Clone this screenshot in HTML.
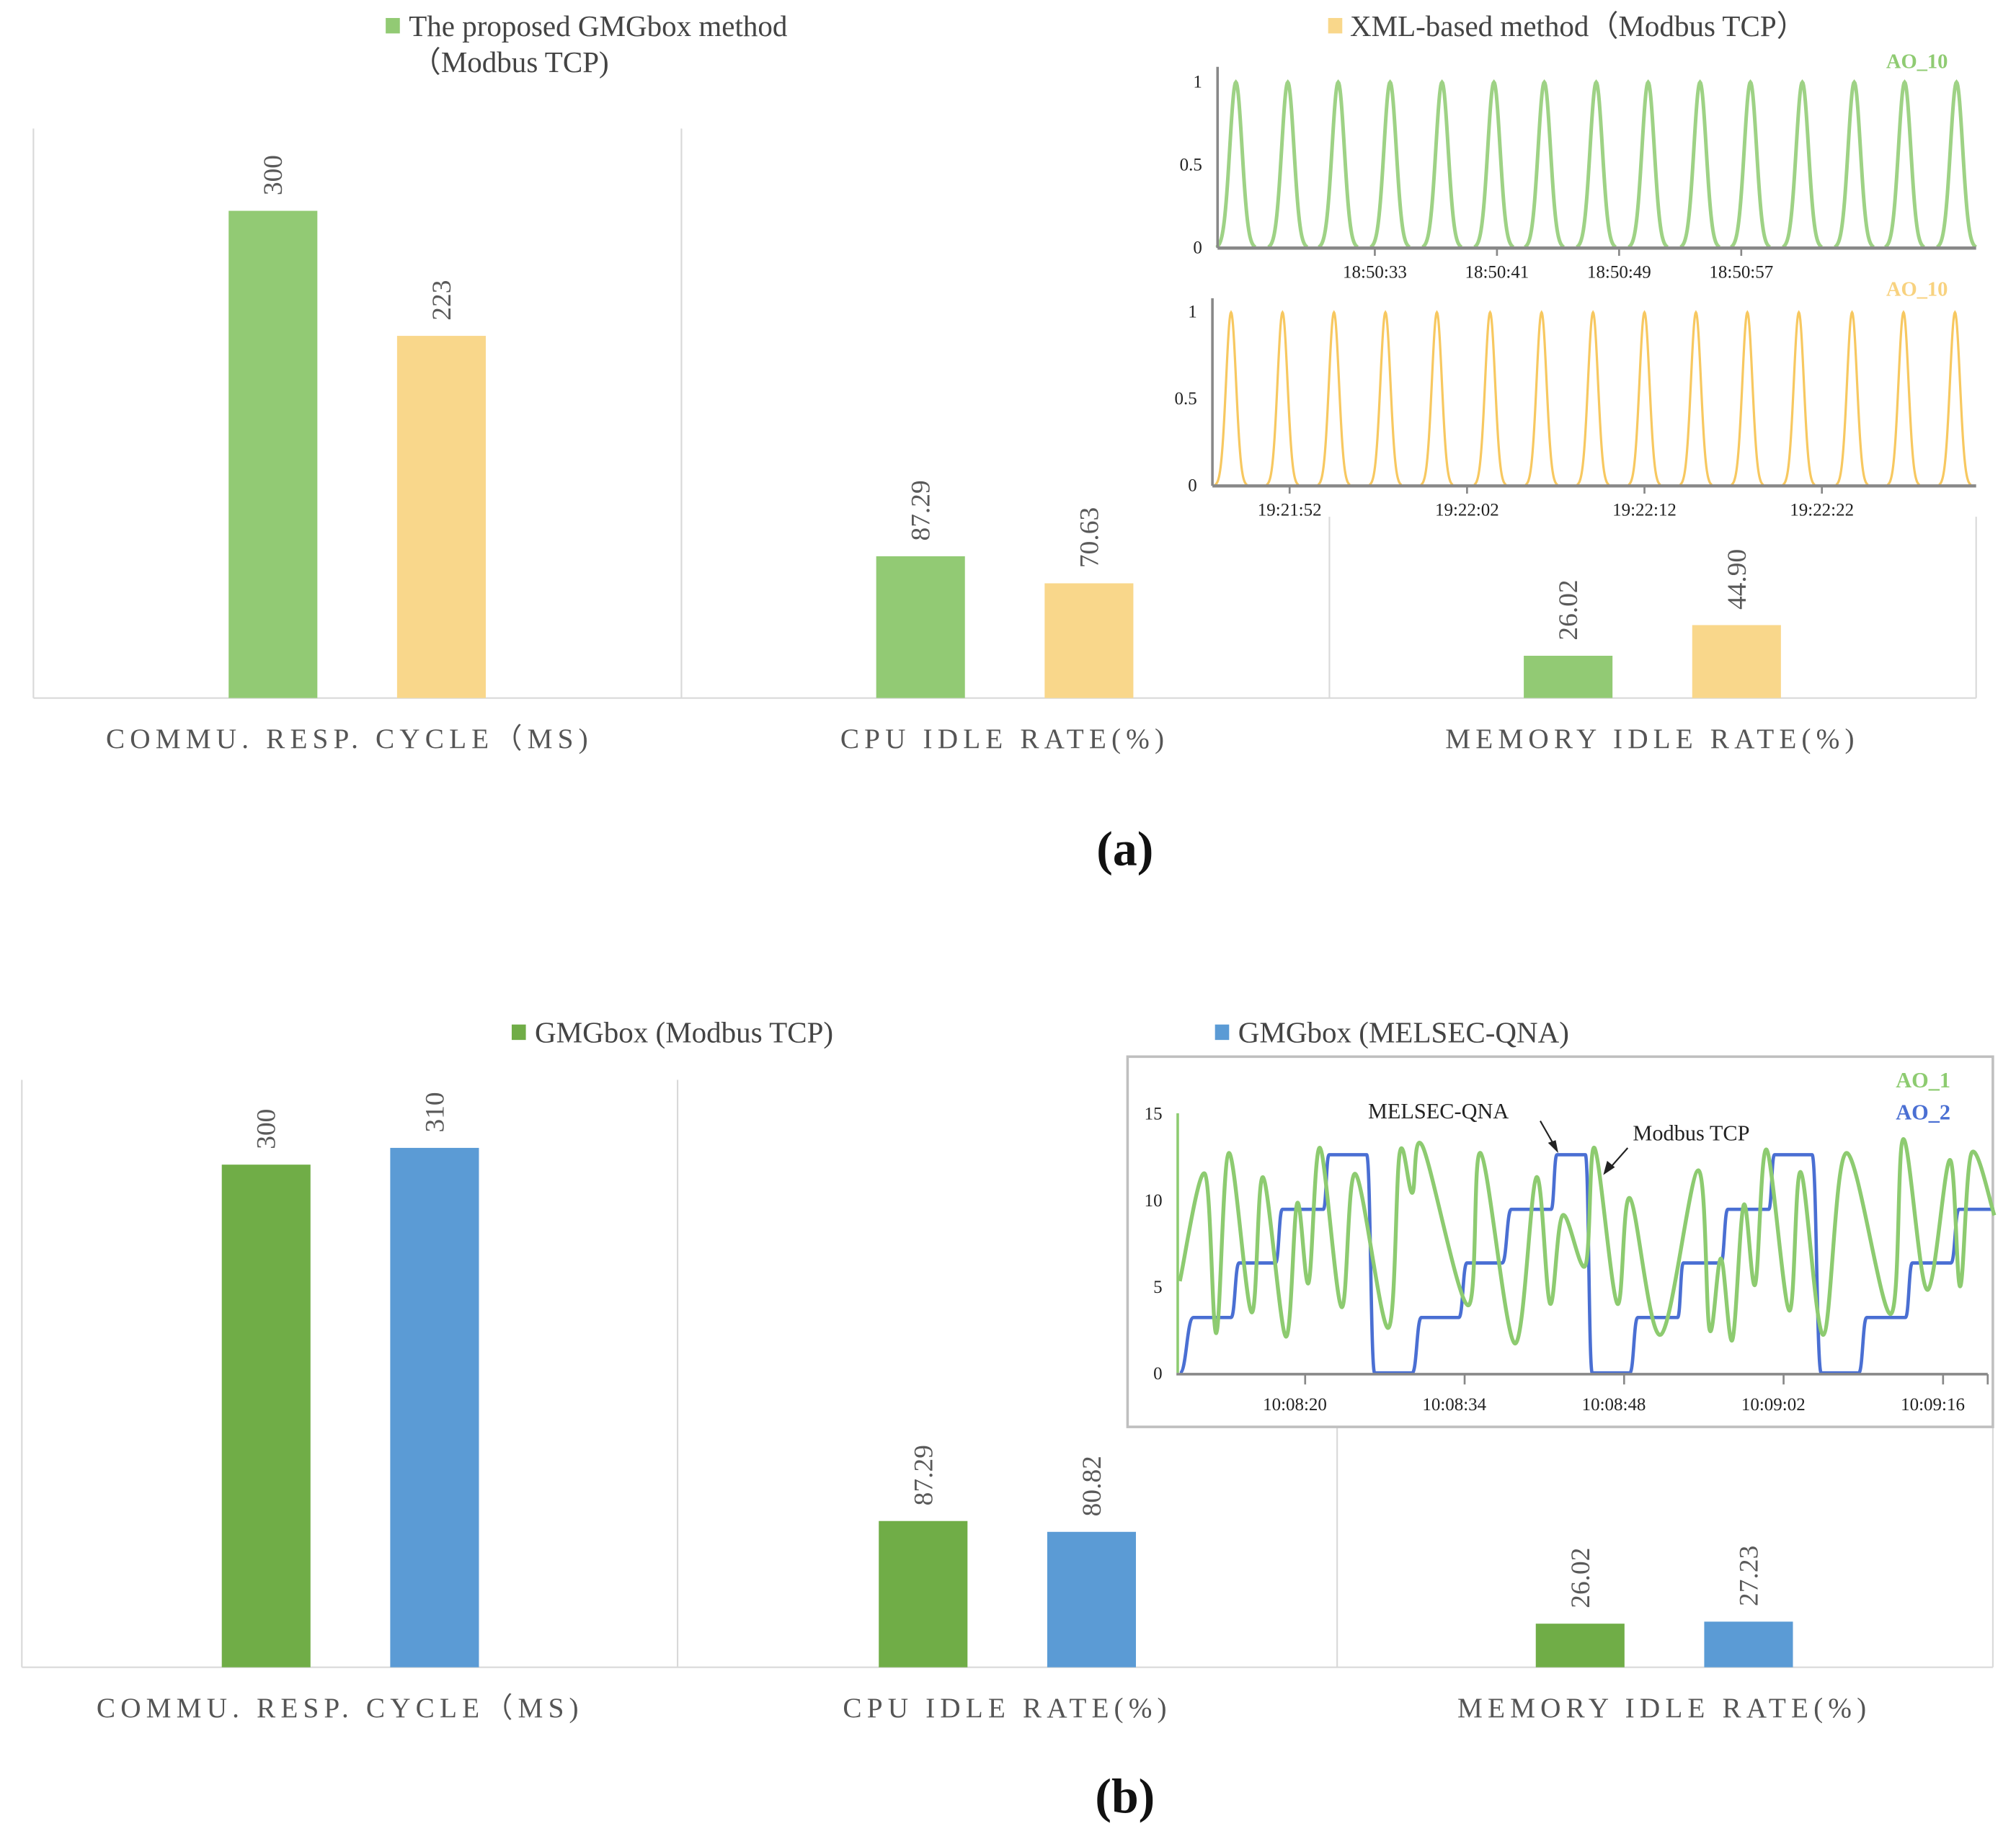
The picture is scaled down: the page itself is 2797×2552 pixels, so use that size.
<!DOCTYPE html>
<html><head><meta charset="utf-8"><style>
html,body{margin:0;padding:0;background:#fff}
svg{display:block}
text{font-family:"Liberation Serif",serif}
</style></head><body>
<svg id="fig" width="2797" height="2552" viewBox="0 0 1568 1430.6" preserveAspectRatio="none" xmlns="http://www.w3.org/2000/svg">
<rect x="0" y="0" width="1568" height="1431" fill="#fff"/>
<g id="root"></g>
</svg>
<script>
// ---- Panel (a) data
const catsA = ["COMMU. RESP. CYCLE（MS)", "CPU IDLE RATE(%)", "MEMORY IDLE RATE(%)"];
const greenA = [300, 87.29, 26.02];
const yellowA = [223, 70.63, 44.90];
const labelsGreenA = ["300", "87.29", "26.02"];
const labelsYellowA = ["223", "70.63", "44.90"];
// ---- Panel (b) data
const catsB = ["COMMU. RESP. CYCLE（MS)", "CPU IDLE RATE(%)", "MEMORY IDLE RATE(%)"];
const greenB = [300, 87.29, 26.02];
const blueB = [310, 80.82, 27.23];
const labelsGreenB = ["300", "87.29", "26.02"];
const labelsBlueB = ["310", "80.82", "27.23"];
// ---- inset pulses (seconds)
const pulseTopPeaks = [23.9, 27.3, 30.6, 34.0, 37.4, 40.8, 44.1, 47.5, 50.9, 54.3, 57.6, 61.0, 64.4, 67.7, 71.1];
const pulseTopTicks = [33, 41, 49, 57];
const pulseTopTickLabels = ["18:50:33", "18:50:41", "18:50:49", "18:50:57"];
const pulseBotPeaks = [48.7, 51.6, 54.5, 57.4, 60.3, 63.3, 66.2, 69.1, 72.0, 74.9, 77.8, 80.7, 83.7, 86.6, 89.5];
const pulseBotTicks = [52, 62, 72, 82];
const pulseBotTickLabels = ["19:21:52", "19:22:02", "19:22:12", "19:22:22"];
const pulseYTicks = [0, 0.5, 1];
const pulseYLabels = ["0", "0.5", "1"];
// ---- inset (b) series (seconds after 10:08:00)
const ao1T = [9.0, 11.2, 12.2, 13.3, 15.3, 16.3, 18.3, 19.3, 20.3, 21.3, 23.2, 24.4, 27.3, 28.3, 29.4, 30.3, 34.3, 35.4, 38.4, 40.3, 41.5, 42.6, 44.6, 45.4, 47.4, 48.5, 51.2, 54.5, 55.5, 56.5, 57.5, 58.5, 59.5, 60.5, 62.5, 63.5, 65.5, 67.5, 71.4, 72.5, 74.6, 76.6, 77.5, 78.5, 80.5];
const ao1V = [5.3, 11.5, 2.3, 12.7, 3.5, 11.3, 2.1, 9.8, 5.2, 13.0, 3.8, 11.5, 2.6, 12.7, 10.4, 13.1, 3.9, 12.7, 1.7, 11.3, 4.0, 9.1, 6.2, 13.0, 4.0, 10.1, 2.2, 11.7, 2.5, 6.6, 1.9, 9.7, 5.1, 12.9, 3.6, 11.6, 2.2, 12.7, 3.4, 13.5, 4.8, 12.3, 5.0, 12.7, 9.1];
const ao2Start = [9.0, 10.2, 14.2, 18.0, 22.1, 26.1, 30.2, 34.2, 38.1, 42.1, 45.2, 49.2, 53.2, 57.1, 61.2, 65.3, 69.3, 73.3, 77.4];
const ao2End = [9.0, 13.5, 17.4, 21.6, 25.4, 29.4, 33.5, 37.3, 41.6, 44.6, 48.5, 52.7, 56.5, 60.7, 64.5, 68.6, 72.7, 76.7, 80.5];
const ao2Level = [0, 3.2, 6.35, 9.45, 12.6, 0, 3.2, 6.35, 9.45, 12.6, 0, 3.2, 6.35, 9.45, 12.6, 0, 3.2, 6.35, 9.45];
const insBTicks = [20, 34, 48, 62, 76];
const insBTickLabels = ["10:08:20", "10:08:34", "10:08:48", "10:09:02", "10:09:16"];
const insBYTicks = [0, 5, 10, 15];

const NS = "http://www.w3.org/2000/svg";
const root = document.getElementById('root');
function mk(tag, attrs, parent) {
  const e = document.createElementNS(NS, tag);
  for (const k in attrs) e.setAttribute(k, attrs[k]);
  (parent || root).appendChild(e);
  return e;
}
function txt(s, attrs, parent) { const e = mk('text', attrs, parent); e.textContent = s; return e; }

// ---------- bar panel builder
function barPanel(cfg) {
  const g = mk('g', {});
  
  
  const y = v => cfg.base - v * cfg.scale;
  cfg.vlines.forEach(l => {
    const ln = mk('line', {x1: l[0], x2: l[0], y1: l[1], y2: cfg.base, stroke: '#d9d9d9', 'stroke-width': 1.2}, g);
    
    
  });
  const ax = mk('line', {x1: cfg.x0, x2: cfg.x1, y1: cfg.base, y2: cfg.base, stroke: '#d9d9d9', 'stroke-width': 1.2}, g);
  
  
  const w = (cfg.x1 - cfg.x0) / cfg.cats.length;
  cfg.cats.forEach((c, i) => {
    const cx = cfg.x0 + w * (i + 0.5);
    [[cfg.s1, cfg.l1, cfg.c1, -1], [cfg.s2, cfg.l2, cfg.c2, 1]].forEach(([s, lab, col, side], k) => {
      const bx = cx + side * 31 + (side < 0 ? -69 : 0) + cfg.shift;
      const r = mk('rect', {x: bx, y: y(s[i]), width: 69, height: s[i] * cfg.scale, fill: col}, g);
      
      
      const tx = bx + 34.5 + 7, ty = y(s[i]) - 12;
      const t = txt(lab[i], {x: tx, y: ty, transform: `rotate(-90 ${tx} ${ty})`, 'font-size': 21, fill: '#595959'}, g);
      
      
    });
    const t = txt(c, {x: cx + cfg.labShift[i], y: cfg.base + 39, 'text-anchor': 'middle', 'font-size': 22, fill: '#555', 'letter-spacing': 4}, g);
    
    
  });
}

barPanel({name: 'panel-a-bars', x0: 26, x1: 1537, base: 543, scale: 379 / 300, cats: catsA,
  s1: greenA, s2: yellowA, l1: labelsGreenA, l2: labelsYellowA, c1: '#92CA74', c2: '#F9D78B', k1: 'gmgbox', k2: 'xml',
  vlines: [[26, 100], [530, 100], [1034, 380], [1537, 380]], shift: 0, labShift: [-6, 0, 0]});
barPanel({name: 'panel-b-bars', x0: 17, x1: 1550, base: 1297, scale: 391 / 300, cats: catsB,
  s1: greenB, s2: blueB, l1: labelsGreenB, l2: labelsBlueB, c1: '#70AD47', c2: '#5B9BD5', k1: 'modbus', k2: 'melsec',
  vlines: [[17, 840], [527, 840], [1040, 1110], [1550, 1110]], shift: 0, labShift: [-8, 0, 0]});

// ---------- legends & captions
function legend(x, y, col, lines, name) {
  const g = mk('g', {});
  
  
  mk('rect', {x: x, y: y - 14, width: 11, height: 12, fill: col}, g);
  lines.forEach((l, i) => txt(l[0], {x: x + l[1], y: y + i * 28, 'font-size': 23, fill: '#444'}, g));
}
legend(300, 28, '#92CA74', [["The proposed GMGbox method", 18], ["（Modbus TCP)", 20]], 'legend-gmgbox-method');
legend(1033, 28, '#F9D78B', [["XML-based method（Modbus TCP）", 17]], 'legend-xml-method');
legend(398, 811, '#70AD47', [["GMGbox (Modbus TCP)", 18]], 'legend-gmgbox-modbus');
legend(945, 811, '#5B9BD5', [["GMGbox (MELSEC-QNA)", 18]], 'legend-gmgbox-melsec');
let cap = txt('(a)', {x: 875, y: 673, 'text-anchor': 'middle', 'font-size': 38, 'font-weight': 'bold', fill: '#111'});


cap = txt('(b)', {x: 875, y: 1410, 'text-anchor': 'middle', 'font-size': 38, 'font-weight': 'bold', fill: '#111'});



// ---------- pulse insets
function pulseInset(cfg) {
  const g = mk('g', {});
  
  
  const x = t => cfg.ax0 + (t - cfg.t0) * cfg.pxs;
  const y = v => cfg.yb - v * (cfg.yb - cfg.y1);
  mk('rect', {x: cfg.bg[0], y: cfg.bg[1], width: cfg.bg[2], height: cfg.bg[3], fill: '#fff'}, g);
  cfg.peaks.forEach((p, i) => {
    let d = '';
    for (let k = -3.2; k <= 3.2001; k += 0.1) {
      const t = p + k * cfg.sig, v = Math.exp(-k * k / 2);
      const xx = Math.max(cfg.ax0, x(t));
      d += (d ? 'L' : 'M') + xx.toFixed(2) + ',' + y(v).toFixed(2);
    }
    const pa = mk('path', {d: d, fill: 'none', stroke: cfg.col, 'stroke-width': cfg.sw}, g);
    
    
  });
  mk('line', {x1: cfg.ax0, x2: cfg.ax0, y1: cfg.ytop, y2: cfg.yb, stroke: '#888', 'stroke-width': 2}, g);
  mk('line', {x1: cfg.ax0, x2: 1537, y1: cfg.yb, y2: cfg.yb, stroke: '#888', 'stroke-width': 2.5}, g);
  cfg.ticks.forEach((t, i) => {
    mk('line', {x1: x(t), x2: x(t), y1: cfg.yb, y2: cfg.yb + 6, stroke: '#888', 'stroke-width': 1.5}, g);
    const tl = txt(cfg.tickLabels[i], {x: x(t), y: cfg.yb + 23, 'text-anchor': 'middle', 'font-size': 14, fill: '#222'}, g);
    
    
  });
  pulseYTicks.forEach((v, i) => {
    const tl = txt(pulseYLabels[i], {x: cfg.ax0 - 12, y: y(v) + 4, 'text-anchor': 'end', 'font-size': 14, fill: '#222'}, g);
    
    
  });
  const lt = txt('AO_10', {x: 1515, y: cfg.labY, 'text-anchor': 'end', 'font-size': 16, 'font-weight': 'bold', fill: cfg.labCol}, g);
  
  
}
pulseInset({name: 'inset-gmgbox-pulses', ax0: 947, t0: 22.7, pxs: 11.875, yb: 193, y1: 64, ytop: 52,
  peaks: pulseTopPeaks, sig: 0.4, col: '#9ED285', sw: 2.8, ticks: pulseTopTicks, tickLabels: pulseTopTickLabels,
  bg: [900, 40, 640, 180], labY: 53, labCol: '#8FCB72'});
pulseInset({name: 'inset-xml-pulses', ax0: 943, t0: 47.65, pxs: 13.8, yb: 378, y1: 243, ytop: 232,
  peaks: pulseBotPeaks, sig: 0.28, col: '#F7C860', sw: 1.8, ticks: pulseBotTicks, tickLabels: pulseBotTickLabels,
  bg: [900, 220, 640, 182], labY: 230, labCol: '#F8D27F'});

// ---------- inset (b)
(function () {
  const g = mk('g', {});
  
  
  const x = t => 915 + (t - 8.7) * 8.86;
  const y = v => 1068 - v * (1068 - 866) / 15;
  const fr = mk('rect', {x: 877, y: 822, width: 673, height: 288, fill: '#fff', stroke: '#bfbfbf', 'stroke-width': 2}, g);
  
  
  const P = ao1T.map((t, i) => [x(t), y(ao1V[i])]);
  let d = 'M' + P[0][0] + ',' + P[0][1];
  for (let i = 0; i < P.length - 1; i++) {
    const p0 = P[Math.max(0, i - 1)], p1 = P[i], p2 = P[i + 1], p3 = P[Math.min(P.length - 1, i + 2)];
    const c1 = [p1[0] + (p2[0] - p0[0]) / 6, p1[1] + (p2[1] - p0[1]) / 6];
    const c2 = [p2[0] - (p3[0] - p1[0]) / 6, p2[1] - (p3[1] - p1[1]) / 6];
    d += `C${c1[0].toFixed(2)},${c1[1].toFixed(2)} ${c2[0].toFixed(2)},${c2[1].toFixed(2)} ${p2[0].toFixed(2)},${p2[1].toFixed(2)}`;
  }
  let db = '';
  ao2Level.forEach((v, i) => {
    const xs = x(ao2Start[i]), xe = x(ao2End[i]), yy = y(v);
    if (i === 0) db = `M${xs},${yy}`;
    else {
      const xp = x(ao2End[i - 1]), yp = y(ao2Level[i - 1]);
      const mx = (xp + xs) / 2;
      db += `C${mx},${yp} ${mx},${yy} ${xs},${yy}`;
    }
    db += `L${xe},${yy}`;
  });
  const pb = mk('path', {d: db, fill: 'none', stroke: '#4A6FD3', 'stroke-width': 2.6}, g);
  
  
  const pg = mk('path', {d: d, fill: 'none', stroke: '#8DCB70', 'stroke-width': 3}, g);
  
  
  mk('line', {x1: 916, x2: 916, y1: 866, y2: 1068, stroke: '#8DCB70', 'stroke-width': 2}, g);
  mk('line', {x1: 915, x2: 1546, y1: 1069, y2: 1069, stroke: '#888', 'stroke-width': 2}, g);
  insBTicks.forEach((t, i) => {
    mk('line', {x1: x(t), x2: x(t), y1: 1069, y2: 1077, stroke: '#888', 'stroke-width': 1.5}, g);
    const tl = txt(insBTickLabels[i], {x: x(t) - 8, y: 1097, 'text-anchor': 'middle', 'font-size': 14, fill: '#222'}, g);
    
    
  });
  mk('line', {x1: 1546, x2: 1546, y1: 1069, y2: 1077, stroke: '#888', 'stroke-width': 1.5}, g);
  insBYTicks.forEach(v => {
    const tl = txt(String(v), {x: 904, y: y(v) + 5, 'text-anchor': 'end', 'font-size': 14, fill: '#222'}, g);
    
    
  });
  let t = txt('AO_1', {x: 1517, y: 846, 'text-anchor': 'end', 'font-size': 17, 'font-weight': 'bold', fill: '#8DCB70'}, g);
  
  
  t = txt('AO_2', {x: 1517, y: 871, 'text-anchor': 'end', 'font-size': 17, 'font-weight': 'bold', fill: '#4A6FD3'}, g);
  
  
  t = txt('MELSEC-QNA', {x: 1064, y: 870, 'font-size': 17, fill: '#222'}, g);
  
  
  t = txt('Modbus TCP', {x: 1270, y: 887, 'font-size': 17, fill: '#222'}, g);
  
  
  mk('line', {x1: 1198, x2: 1210, y1: 872, y2: 893, stroke: '#222', 'stroke-width': 1.2}, g);
  mk('path', {d: 'M1212,897 L1204,889 L1210,887 Z', fill: '#222'}, g);
  mk('line', {x1: 1266, x2: 1251, y1: 893, y2: 910, stroke: '#222', 'stroke-width': 1.2}, g);
  mk('path', {d: 'M1247,914 L1250,903 L1256,908 Z', fill: '#222'}, g);
})();
</script>
</body></html>
